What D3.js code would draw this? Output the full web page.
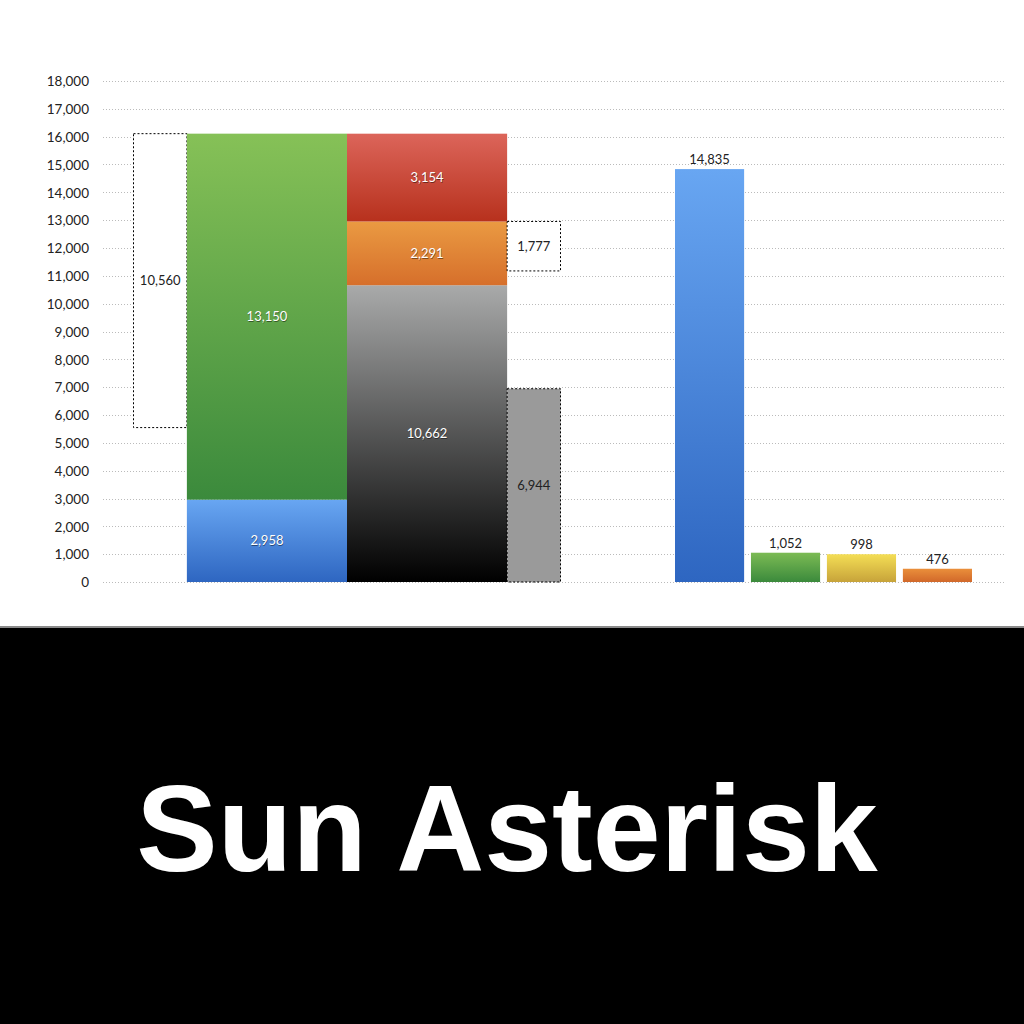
<!DOCTYPE html>
<html>
<head>
<meta charset="utf-8">
<script src="https://cdn.jsdelivr.net/npm/d3@7"></script>
<style>
  html, body { margin: 0; padding: 0; background: #fff; }
  svg { display: block; }
  .tick-label { font-family: Lato, "Noto Sans", sans-serif; font-size: 13.5px; fill: #222; }
  .val { font-family: Lato, "Noto Sans", sans-serif; font-size: 13px; }
</style>
</head>
<body>
<div id="chart"></div>
<script>
// Chart values
var yTickValues = d3.range(0, 18001, 1000);

// left stacked column (bottom -> top)
var leftStackValues = [2958, 13150];
var leftStackColors = [["#68a6f2", "#2e66c1"], ["#86c157", "#3b8a3c"]];

// middle stacked column (bottom -> top)
var midStackValues = [10662, 2291, 3154];
var midStackColors = [["#a9aaaa", "#000000"], ["#ea9a42", "#d66f2b"], ["#dc655a", "#b7311d"]];

// floating dotted boxes
var gapLeftValue = 10560;   // hangs from top of left stack
var gapMidValue = 1777;     // hangs from top of orange segment
var grayValue = 6944;

// right column group
var sideCategories = ["a", "b", "c", "d"];
var sideValues = [14835, 1052, 998, 476];
var sideColors = [["#68a6f2", "#2e66c1"], ["#7cbb54", "#3b8a3c"], ["#f4de55", "#c7a33a"], ["#ea8f3b", "#d1682a"]];

var fmt = d3.format(",");

var svg = d3.select("#chart").append("svg")
    .attr("width", 1024)
    .attr("height", 1024);

var defs = svg.append("defs");
function grad(id, c) {
    var g = defs.append("linearGradient").attr("id", id)
        .attr("x1", 0).attr("y1", 0).attr("x2", 0).attr("y2", 1);
    g.append("stop").attr("offset", "0%").attr("stop-color", c[0]);
    g.append("stop").attr("offset", "100%").attr("stop-color", c[1]);
    return "url(#" + id + ")";
}

// Scales
var y = d3.scaleLinear().domain([0, 18000]).range([582, 81]);
// left block measured in slots: dotted box = 1 slot, each stack = 3 slots, side boxes = 1 slot
var slot = d3.scaleLinear().domain([0, 8]).range([133.5, 560.5]);
var xSide = d3.scaleBand().domain(sideCategories).range([675, 972]).paddingInner(0.09);

// Gridlines
svg.append("g")
    .selectAll("line")
    .data(yTickValues)
    .join("line")
        .attr("x1", 103).attr("x2", 1005)
        .attr("y1", d => Math.round(y(d)) + 0.5)
        .attr("y2", d => Math.round(y(d)) + 0.5)
        .attr("stroke", "#bbb")
        .attr("stroke-width", 1)
        .attr("stroke-dasharray", "1,2");

// Y axis labels
var yAxis = svg.append("g")
    .attr("transform", "translate(89,0)")
    .call(d3.axisLeft(y).tickValues(yTickValues).tickFormat(fmt).tickSize(0).tickPadding(0));
yAxis.select(".domain").remove();
yAxis.selectAll("text").attr("class", "tick-label").attr("dy", "0.35em").attr("fill", null);

function label(x, yPos, text, inside) {
    if (inside) {
        svg.append("text").attr("class", "val")
            .attr("x", x + 0.5).attr("y", yPos + 1).attr("dy", "0.35em")
            .attr("text-anchor", "middle").attr("fill", "rgba(0,0,0,0.45)").text(text);
    }
    svg.append("text").attr("class", "val")
        .attr("x", x).attr("y", yPos).attr("dy", "0.35em")
        .attr("text-anchor", "middle").attr("fill", inside ? "#fff" : "#222").text(text);
}

// Left dotted box hanging from top of left stack
var leftTotal = d3.sum(leftStackValues);
svg.append("rect")
    .attr("x", slot(0)).attr("width", slot(1) - slot(0))
    .attr("y", y(leftTotal)).attr("height", y(leftTotal - gapLeftValue) - y(leftTotal))
    .attr("fill", "#fff").attr("stroke", "#000").attr("stroke-dasharray", "2,2");
label((slot(0) + slot(1)) / 2, (y(leftTotal) + y(leftTotal - gapLeftValue)) / 2, fmt(gapLeftValue), false);

// stacked columns
function drawStack(values, colors, s0, s1, prefix) {
    var base = 0;
    values.forEach(function(v, i) {
        var top = base + v;
        svg.append("rect")
            .attr("x", slot(s0)).attr("width", slot(s1) - slot(s0))
            .attr("y", y(top)).attr("height", y(base) - y(top))
            .attr("fill", grad(prefix + i, colors[i]));
        label((slot(s0) + slot(s1)) / 2, (y(base) + y(top)) / 2, fmt(v), true);
        base = top;
    });
}
drawStack(leftStackValues, leftStackColors, 1, 4, "ls");
drawStack(midStackValues, midStackColors, 4, 7, "ms");

// Gray column next to the middle stack
svg.append("rect")
    .attr("x", slot(7)).attr("width", slot(8) - slot(7))
    .attr("y", y(grayValue)).attr("height", y(0) - y(grayValue))
    .attr("fill", "#9a9a9a").attr("stroke", "#000").attr("stroke-dasharray", "2,2");
label((slot(7) + slot(8)) / 2, (y(0) + y(grayValue)) / 2, fmt(grayValue), false);

// Small dotted box hanging from top of orange segment
var midTop = midStackValues[0] + midStackValues[1];
svg.append("rect")
    .attr("x", slot(7)).attr("width", slot(8) - slot(7))
    .attr("y", y(midTop)).attr("height", y(midTop - gapMidValue) - y(midTop))
    .attr("fill", "#fff").attr("stroke", "#000").attr("stroke-dasharray", "2,2");
label((slot(7) + slot(8)) / 2, (y(midTop) + y(midTop - gapMidValue)) / 2, fmt(gapMidValue), false);

// Right columns
svg.append("g")
    .selectAll("rect")
    .data(sideValues)
    .join("rect")
        .attr("x", (d, i) => xSide(sideCategories[i]))
        .attr("width", xSide.bandwidth())
        .attr("y", d => y(d))
        .attr("height", d => y(0) - y(d))
        .attr("fill", (d, i) => grad("sd" + i, sideColors[i]));
svg.append("g")
    .selectAll("text")
    .data(sideValues)
    .join("text")
        .attr("class", "val")
        .attr("x", (d, i) => xSide(sideCategories[i]) + xSide.bandwidth() / 2)
        .attr("y", d => y(d) - 5)
        .attr("text-anchor", "middle")
        .attr("fill", "#222")
        .text(d => fmt(d));

// Bottom black band with title
svg.append("rect").attr("x", 0).attr("y", 626).attr("width", 1024).attr("height", 2).attr("fill", "#8a8a8a");
svg.append("rect").attr("x", 0).attr("y", 628).attr("width", 1024).attr("height", 396).attr("fill", "#000");
svg.append("text")
    .attr("x", 507).attr("y", 871)
    .attr("text-anchor", "middle")
    .attr("font-family", "'Liberation Sans', Arial, sans-serif")
    .attr("font-weight", "bold")
    .attr("font-size", 122)
    .attr("fill", "#fff")
    .text("Sun Asterisk");
</script>
</body>
</html>
